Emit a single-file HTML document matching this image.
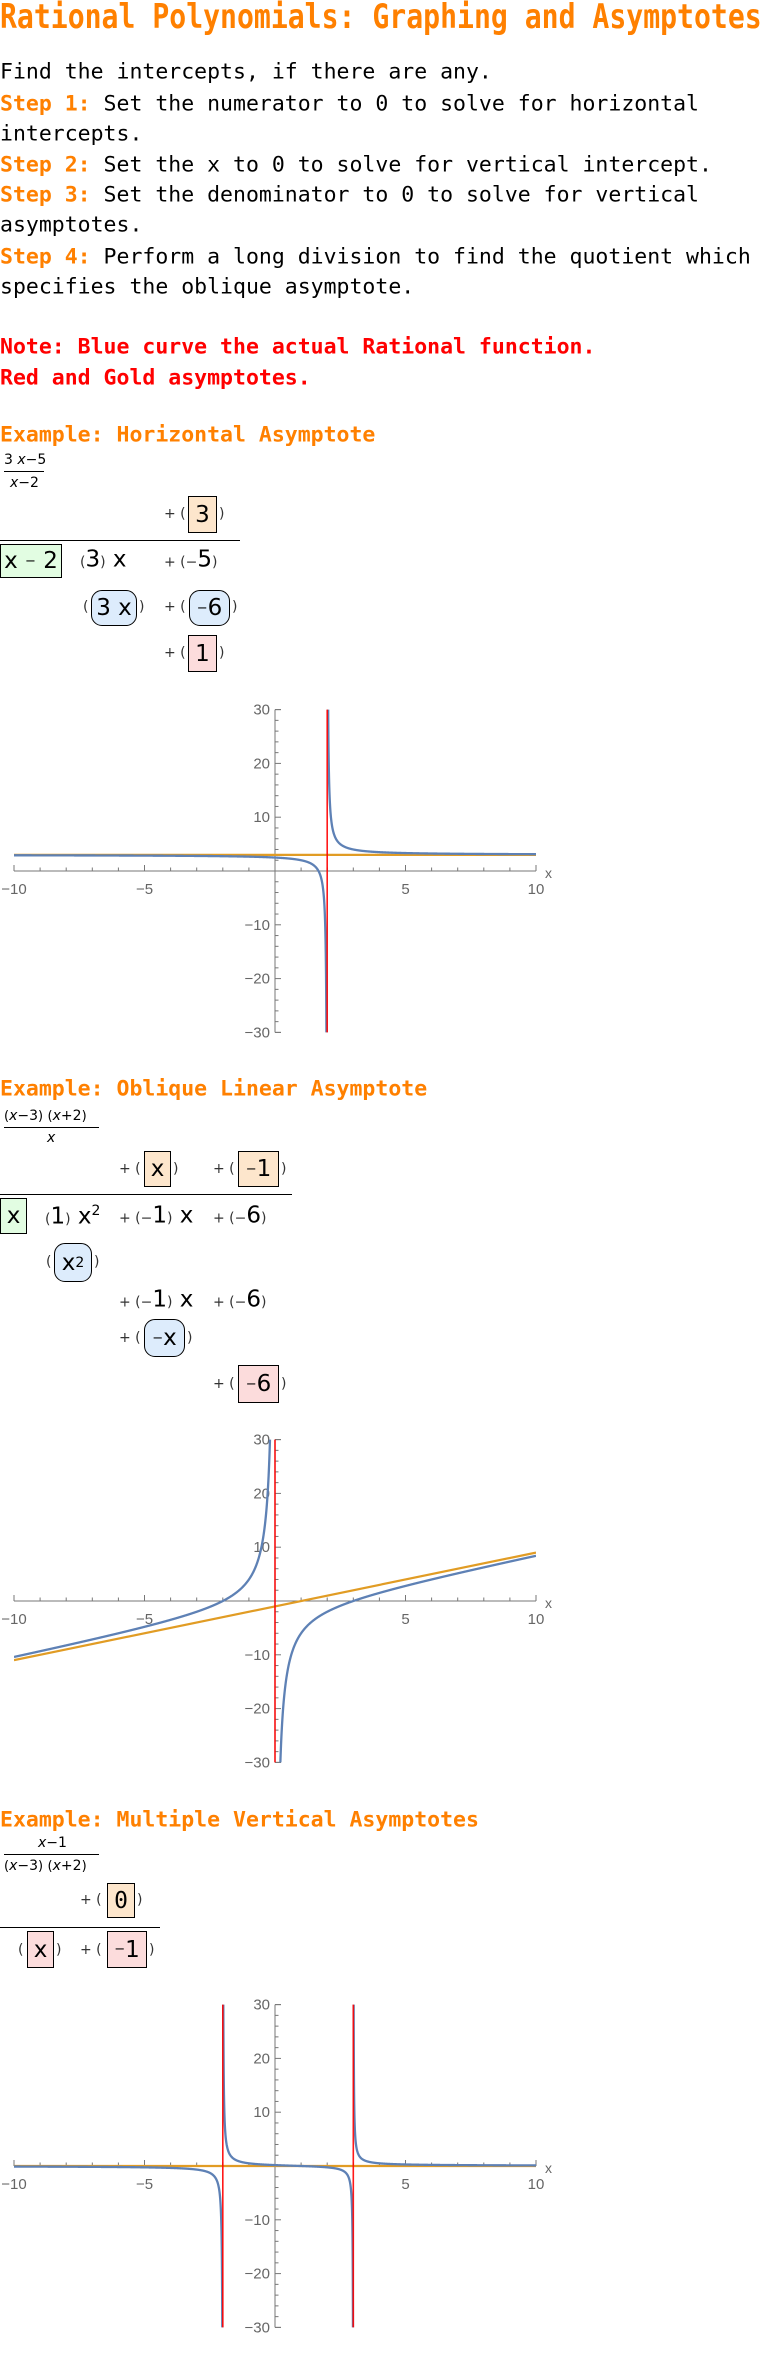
<!DOCTYPE html>
<html><head><meta charset="utf-8">
<style>
body{margin:0;width:765px;height:2366px;position:relative;background:#fff;overflow:hidden;font-family:"DejaVu Sans Mono","Liberation Mono",monospace;}
.a{position:absolute;white-space:pre;line-height:1;}
.c{transform:translateY(-50%);}
.title{left:0;top:0;font-size:33.4px;font-weight:bold;color:#ff8000;transform-origin:0 0;}
.p{left:0;font-size:21.5px;color:#000;}
.o{color:#ff8000;font-weight:bold;}
.r{color:#ff0000;font-weight:bold;}
.h{left:0;font-size:21.5px;font-weight:bold;color:#ff8000;}
.box{position:absolute;border:1px solid #000;box-sizing:border-box;display:flex;align-items:center;justify-content:center;font-family:"DejaVu Sans",sans-serif;font-size:23px;color:#000;white-space:pre;}
.pe{background:#fde6cc;}
.gr{background:#e2fde2;}
.bl{background:#ddecfc;border-radius:11px;}
.pk{background:#fcdcdc;}
.m{font-family:"DejaVu Sans",sans-serif;color:#000;}
.sm{font-size:14px;color:#333;}
.big{font-size:23px;}
.sub{font-size:13px;}
.frac{font-family:"DejaVu Sans",sans-serif;font-size:14px;color:#000;}
.hl{position:absolute;height:1px;background:#000;}
</style></head>
<body>
<div id="title" class="a title">Rational Polynomials: Graphing and Asymptotes</div>

<div class="a c p" style="top:72px">Find the intercepts, if there are any.</div>
<div class="a c p" style="top:104px"><span class="o">Step 1:</span> Set the numerator to 0 to solve for horizontal</div>
<div class="a c p" style="top:134px">intercepts.</div>
<div class="a c p" style="top:165px"><span class="o">Step 2:</span> Set the x to 0 to solve for vertical intercept.</div>
<div class="a c p" style="top:195px"><span class="o">Step 3:</span> Set the denominator to 0 to solve for vertical</div>
<div class="a c p" style="top:225px">asymptotes.</div>
<div class="a c p" style="top:257px"><span class="o">Step 4:</span> Perform a long division to find the quotient which</div>
<div class="a c p" style="top:287px">specifies the oblique asymptote.</div>
<div class="a c p r" style="top:347px">Note: Blue curve the actual Rational function.</div>
<div class="a c p r" style="top:378px">Red and Gold asymptotes.</div>

<!-- Section 1 -->
<div class="a c h" style="top:435px">Example: Horizontal Asymptote</div>
<div class="a c frac" style="top:460px;left:4px">3 <i>x</i>−5</div>
<div class="hl" style="top:471px;left:4px;width:40px"></div>
<div class="a c frac" style="top:483px;left:10px"><i>x</i>−2</div>

<div class="a c m sm" style="top:514px;left:164px">+ (</div>
<div class="box pe" style="left:188px;top:496px;width:29px;height:37px">3</div>
<div class="a c m sm" style="top:514px;left:219px">)</div>
<div class="hl" style="top:540px;left:0;width:240px"></div>
<div class="box gr" style="left:0;top:544px;width:62px;height:34px">x <span class="sub">−</span> 2</div>
<div class="a c m" style="top:560px;left:80px"><span class="sm">(</span><span class="big">3</span><span class="sm">)</span><span class="big"> x</span></div>
<div class="a c m" style="top:560px;left:164px"><span class="sm">+ (−</span><span class="big">5</span><span class="sm">)</span></div>
<div class="a c m sm" style="top:607px;left:83px">(</div>
<div class="box bl" style="left:91px;top:590px;width:46px;height:36px">3 x</div>
<div class="a c m sm" style="top:607px;left:139px">)</div>
<div class="a c m sm" style="top:607px;left:164px">+ (</div>
<div class="box bl" style="left:189px;top:590px;width:41px;height:36px"><span class="sub">−</span>6</div>
<div class="a c m sm" style="top:607px;left:232px">)</div>
<div class="a c m sm" style="top:653px;left:164px">+ (</div>
<div class="box pk" style="left:188px;top:635px;width:29px;height:37px">1</div>
<div class="a c m sm" style="top:653px;left:219px">)</div>

<!-- Section 2 -->
<div class="a c h" style="top:1089px">Example: Oblique Linear Asymptote</div>
<div class="a c frac" style="top:1116px;left:4px"><span class="sub">(</span><i>x</i>−3<span class="sub">)</span> <span class="sub">(</span><i>x</i>+2<span class="sub">)</span></div>
<div class="hl" style="top:1127px;left:4px;width:95px"></div>
<div class="a c frac" style="top:1138px;left:47px"><i>x</i></div>

<div class="a c m sm" style="top:1169px;left:119px">+ (</div>
<div class="box pe" style="left:144px;top:1151px;width:27px;height:36px">x</div>
<div class="a c m sm" style="top:1169px;left:173px">)</div>
<div class="a c m sm" style="top:1169px;left:213px">+ (</div>
<div class="box pe" style="left:238px;top:1151px;width:41px;height:36px"><span class="sub">−</span>1</div>
<div class="a c m sm" style="top:1169px;left:281px">)</div>
<div class="hl" style="top:1194px;left:0;width:292px"></div>
<div class="box gr" style="left:0;top:1198px;width:27px;height:36px">x</div>
<div class="a c m" style="top:1216px;left:45px"><span class="sm">(</span><span class="big">1</span><span class="sm">)</span><span class="big"> x<sup style="font-size:14px">2</sup></span></div>
<div class="a c m" style="top:1216px;left:119px"><span class="sm">+ (−</span><span class="big">1</span><span class="sm">)</span><span class="big"> x</span></div>
<div class="a c m" style="top:1216px;left:213px"><span class="sm">+ (−</span><span class="big">6</span><span class="sm">)</span></div>
<div class="a c m sm" style="top:1262px;left:46px">(</div>
<div class="box bl" style="left:54px;top:1243px;width:38px;height:39px">x<sup style="font-size:14px">2</sup></div>
<div class="a c m sm" style="top:1262px;left:94px">)</div>
<div class="a c m" style="top:1300px;left:119px"><span class="sm">+ (−</span><span class="big">1</span><span class="sm">)</span><span class="big"> x</span></div>
<div class="a c m" style="top:1300px;left:213px"><span class="sm">+ (−</span><span class="big">6</span><span class="sm">)</span></div>
<div class="a c m sm" style="top:1338px;left:119px">+ (</div>
<div class="box bl" style="left:144px;top:1319px;width:41px;height:38px"><span class="sub">−</span>x</div>
<div class="a c m sm" style="top:1338px;left:187px">)</div>
<div class="a c m sm" style="top:1384px;left:213px">+ (</div>
<div class="box pk" style="left:238px;top:1365px;width:41px;height:38px"><span class="sub">−</span>6</div>
<div class="a c m sm" style="top:1384px;left:281px">)</div>

<!-- Section 3 -->
<div class="a c h" style="top:1820px">Example: Multiple Vertical Asymptotes</div>
<div class="a c frac" style="top:1843px;left:38px"><i>x</i>−1</div>
<div class="hl" style="top:1854px;left:4px;width:95px"></div>
<div class="a c frac" style="top:1866px;left:4px"><span class="sub">(</span><i>x</i>−3<span class="sub">)</span> <span class="sub">(</span><i>x</i>+2<span class="sub">)</span></div>

<div class="a c m sm" style="top:1900px;left:80px">+ (</div>
<div class="box pe" style="left:107px;top:1883px;width:28px;height:35px"><span style="font-family:'DejaVu Sans Mono',monospace">0</span></div>
<div class="a c m sm" style="top:1900px;left:137px">)</div>
<div class="hl" style="top:1927px;left:0;width:160px"></div>
<div class="a c m sm" style="top:1950px;left:18px">(</div>
<div class="box pk" style="left:27px;top:1931px;width:27px;height:37px">x</div>
<div class="a c m sm" style="top:1950px;left:56px">)</div>
<div class="a c m sm" style="top:1950px;left:80px">+ (</div>
<div class="box pk" style="left:107px;top:1931px;width:40px;height:37px"><span class="sub">−</span>1</div>
<div class="a c m sm" style="top:1950px;left:149px">)</div>

<svg id="charts" width="765" height="2366" style="position:absolute;left:0;top:0" xmlns="http://www.w3.org/2000/svg"></svg>

<script>
// shared tick data
const xTickLabels = [-10, -5, 5, 10];
const yTickLabels = [-30, -20, -10, 10, 20, 30];
// chart 1: (3x-5)/(x-2)
const chart1Numerator = [3, -5];
const chart1Denominator = [1, -2];
const chart1VerticalAsymptotes = [2];
const chart1Oblique = [0, 3];
// chart 2: (x-3)(x+2)/x
const chart2Numerator = [1, -1, -6];
const chart2Denominator = [1, 0];
const chart2VerticalAsymptotes = [0];
const chart2Oblique = [1, -1];
// chart 3: (x-1)/((x-3)(x+2))
const chart3Numerator = [1, -1];
const chart3Denominator = [1, -1, -6];
const chart3VerticalAsymptotes = [-2, 3];
const chart3Oblique = [0, 0];

// fit title to page width
(function(){
  const t = document.getElementById('title');
  const w = t.scrollWidth;
  if (w > 0) t.style.transform = 'scaleX(' + (762 / w) + ')';
})();

const NS = 'http://www.w3.org/2000/svg';
const svg = document.getElementById('charts');
function poly(c, x){ let v=0; for(const k of c) v=v*x+k; return v; }
function mk(tag, attrs, parent){ const e=document.createElementNS(NS, tag); for(const k in attrs) e.setAttribute(k, attrs[k]); parent.appendChild(e); return e; }

function drawChart(idx, y0, num, den, vas, obl){
  const X0 = 275, XS = 26.1, YS = 5.38;
  const X = x => X0 + x*XS;
  const Y = y => y0 - y*YS;
  const g = mk('g', {}, svg);
  
  
  const cid = 'clip' + idx;
  const cp = mk('clipPath', {id: cid}, g);
  mk('rect', {x: X(-10), y: Y(30), width: X(10)-X(-10), height: Y(-30)-Y(30)}, cp);
  const xa = mk('line', {x1: X(-10), y1: y0, x2: X(10), y2: y0, stroke: '#777', 'stroke-width': 1}, g);
  
  
  const ya = mk('line', {x1: X0, y1: Y(30), x2: X0, y2: Y(-30), stroke: '#777', 'stroke-width': 1}, g);
  
  
  for(let i=-10;i<=10;i++){
    if(i===0) continue;
    const L = (i%5===0)?6:3.5;
    mk('line', {x1: X(i), y1: y0, x2: X(i), y2: y0-L, stroke: '#777', 'stroke-width': 1}, g);
  }
  for(let j=-30;j<=30;j+=2){
    if(j===0) continue;
    const L = (j%10===0)?6:3.5;
    mk('line', {x1: X0, y1: Y(j), x2: X0+L, y2: Y(j), stroke: '#777', 'stroke-width': 1}, g);
  }
  mk('line', {x1: X0, y1: Y(30), x2: X0+6, y2: Y(30), stroke: '#777'}, g);
  mk('line', {x1: X0, y1: Y(-30), x2: X0+6, y2: Y(-30), stroke: '#777'}, g);
  for(const t of xTickLabels){
    const tx = mk('text', {x: X(t), y: y0+23, 'text-anchor': 'middle', 'font-family': 'Liberation Sans, sans-serif', 'font-size': 15, fill: '#666'}, g);
    tx.textContent = (t<0?'−':'') + Math.abs(t);
    
    
  }
  for(const t of yTickLabels){
    const ty = mk('text', {x: X0-5, y: Y(t)+5, 'text-anchor': 'end', 'font-family': 'Liberation Sans, sans-serif', 'font-size': 15, fill: '#666'}, g);
    ty.textContent = (t<0?'−':'') + Math.abs(t);
    
    
  }
  const xl = mk('text', {x: X(10)+9, y: y0+7, 'font-family': 'Liberation Sans, sans-serif', 'font-size': 14, fill: '#666'}, g);
  xl.textContent = 'x';
  
  
  const ob = mk('line', {x1: X(-10), y1: Y(obl[0]*-10+obl[1]), x2: X(10), y2: Y(obl[0]*10+obl[1]), stroke: '#e19c24', 'stroke-width': 2.2, 'clip-path': 'url(#'+cid+')'}, g);
  
  
  let d = '', pen = false;
  const N = 4000;
  for(let k=0;k<=N;k++){
    const x = -10 + 20*k/N;
    const dv = poly(den, x);
    let y = poly(num, x)/dv;
    if(!isFinite(y) || Math.abs(dv) < 1e-9){ pen=false; continue; }
    if(pen){
      const xp = -10 + 20*(k-1)/N;
      if(Math.sign(poly(den,xp)) !== Math.sign(dv)){ pen=false; }
    }
    y = Math.max(-40, Math.min(40, y));
    d += (pen?'L':'M') + X(x).toFixed(2) + ' ' + Y(y).toFixed(2) + ' ';
    pen = true;
  }
  const cv = mk('path', {d: d, fill: 'none', stroke: '#5e81b5', 'stroke-width': 2.3, 'clip-path': 'url(#'+cid+')'}, g);
  
  
  for(const v of vas){
    const vl = mk('line', {x1: X(v), y1: Y(30), x2: X(v), y2: Y(-30), stroke: '#ff0000', 'stroke-width': 1.6, 'stroke-opacity': 0.9}, g);
    
    
  }
}
drawChart(1, 871, chart1Numerator, chart1Denominator, chart1VerticalAsymptotes, chart1Oblique);
drawChart(2, 1601, chart2Numerator, chart2Denominator, chart2VerticalAsymptotes, chart2Oblique);
drawChart(3, 2166, chart3Numerator, chart3Denominator, chart3VerticalAsymptotes, chart3Oblique);
</script>
</body></html>
